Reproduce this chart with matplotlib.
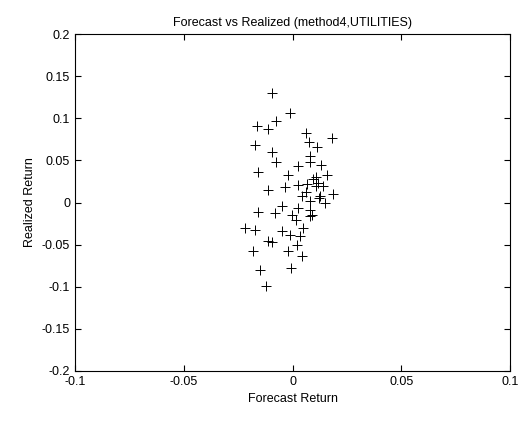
import matplotlib
matplotlib.use('Agg')
import matplotlib.pyplot as plt

# forecast vs realized returns
forecast = [-0.0096, -0.0011, -0.0076, -0.0165, -0.0111, 0.0062, 0.0180, -0.0172,
            -0.0096, 0.0076, 0.0111, 0.0080, -0.0077, -0.0160, -0.0019, 0.0027,
            0.0080, 0.0131, 0.0157, 0.0065, 0.0119, 0.0107, -0.0111, -0.0034,
            0.0027, 0.0188, 0.0126, 0.0149, 0.0080, -0.0050, -0.0080, -0.0157,
            0.0027, 0.0080, 0.0080, -0.0004, 0.0015, -0.0218, 0.0050, -0.0172,
            -0.0050, -0.0011, 0.0034, -0.0111, -0.0093, 0.0019, -0.0180, -0.0019,
            0.0042, -0.0149, -0.0007, -0.0123, 0.0095, 0.0140, 0.0110, 0.0060,
            0.0120, 0.0090, 0.0045]
realized = [0.1306, 0.1060, 0.0964, 0.0908, 0.0869, 0.0821, 0.0762, 0.0679,
            0.0599, 0.0714, 0.0655, 0.0552, 0.0480, 0.0361, 0.0333, 0.0429,
            0.0476, 0.0452, 0.0333, 0.0226, 0.0235, 0.0194, 0.0146, 0.0179,
            0.0214, 0.0107, 0.0075, -0.0004, 0.0015, -0.0044, -0.0123, -0.0115,
            -0.0063, -0.0083, -0.0163, -0.0143, -0.0202, -0.0301, -0.0301, -0.0321,
            -0.0333, -0.0381, -0.0401, -0.0461, -0.0468, -0.0500, -0.0580, -0.0571,
            -0.0631, -0.0798, -0.0777, -0.0996, 0.0280, 0.0200, 0.0300, 0.0120,
            0.0050, -0.0150, 0.0080]

xticks = [-0.1, -0.05, 0, 0.05, 0.1]
xlabels = ['-0.1', '-0.05', '0', '0.05', '0.1']
yticks = [-0.2, -0.15, -0.1, -0.05, 0, 0.05, 0.1, 0.15, 0.2]
ylabels = ['-0.2', '-0.15', '-0.1', '-0.05', '0', '0.05', '0.1', '0.15', '0.2']

plt.rcParams['font.family'] = ['Liberation Sans', 'DejaVu Sans']

fig = plt.figure(figsize=(5.2, 4.22), dpi=100)
ax = fig.add_axes([0.144, 0.121, 0.837, 0.798])
ax.plot(forecast, realized, '+', color='black', markersize=7, markeredgewidth=0.7)

ax.set_xlim(-0.1, 0.1)
ax.set_ylim(-0.2, 0.2)
ax.set_xticks(xticks)
ax.set_xticklabels(xlabels)
ax.set_yticks(yticks)
ax.set_yticklabels(ylabels)
ax.tick_params(direction='in', top=True, right=True, labelsize=9, length=4, width=0.8)
for s in ax.spines.values():
    s.set_linewidth(0.8)

ax.set_title('Forecast vs Realized (method4,UTILITIES)', fontsize=9, pad=6)
ax.set_xlabel('Forecast Return', fontsize=9)
ax.set_ylabel('Realized Return', fontsize=9)

fig.savefig('out.png', dpi=100, facecolor='white')
